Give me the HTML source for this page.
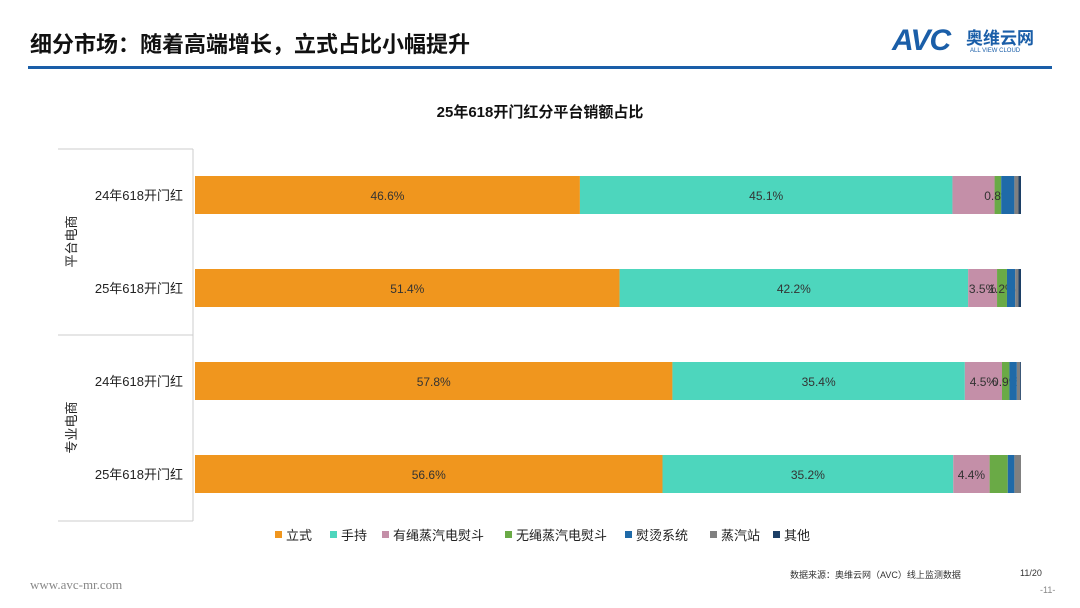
<!DOCTYPE html>
<html><head><meta charset="utf-8"><style>
body{margin:0;width:1080px;height:608px;background:#fff;font-family:"Liberation Sans","Noto Sans CJK SC",sans-serif;overflow:hidden;position:relative}
.t{position:absolute}
</style></head><body>
<div class="t" style="left:30px;top:27px;font-size:22px;font-weight:bold;color:#111">细分市场：随着高端增长，立式占比小幅提升</div>
<div class="t" style="left:892px;top:24px;font-size:30px;font-weight:bold;font-style:italic;color:#1a5ea8;letter-spacing:-1px">AVC</div>
<div class="t" style="left:966px;top:24px;font-size:17px;font-weight:bold;color:#1a5ea8">奥维云网</div>
<div class="t" style="left:970px;top:48px;font-size:6px;color:#1a5ea8">ALL VIEW CLOUD</div>
<div class="t" style="left:28px;top:66px;width:1024px;height:3px;background:#1a5ea8"></div>
<svg class="t" style="left:0;top:0" width="1080" height="608" id="svg"></svg>
<div class="t" style="left:30px;top:577px;font-size:13px;color:#888;font-family:'Liberation Serif',serif">www.avc-mr.com</div>
<div class="t" style="left:790px;top:568px;font-size:9px;color:#333">数据来源：奥维云网（AVC）线上监测数据</div>
<div class="t" style="left:1020px;top:568px;font-size:9px;color:#333">11/20</div>
<div class="t" style="left:1040px;top:585px;font-size:9px;color:#888">-11-</div>
<script>
const categories=["24年618开门红","25年618开门红","24年618开门红","25年618开门红"];
const groups=["平台电商","专业电商"];
const seriesNames=["立式","手持","有绳蒸汽电熨斗","无绳蒸汽电熨斗","熨烫系统","蒸汽站","其他"];
const seriesColors=["#f0961e","#4dd6bd","#c48fa8","#6aaa46","#1f6aa8","#808080","#1c3f66"];
const s0=[46.6,51.4,57.8,56.6];
const s1=[45.1,42.2,35.4,35.2];
const s2=[5.1,3.5,4.5,4.4];
const s3=[0.8,1.2,0.9,2.2];
const s4=[1.6,1.0,0.9,0.8];
const s5=[0.5,0.4,0.4,0.8];
const s6=[0.3,0.3,0.1,0.0];
const showLabel=[[1,1,0,1,0,0,0],[1,1,1,1,0,0,0],[1,1,1,1,0,0,0],[1,1,1,0,0,0,0]];
const series=[s0,s1,s2,s3,s4,s5,s6];
const NS="http://www.w3.org/2000/svg",svg=document.getElementById('svg');
function mk(t,a,txt){const e=document.createElementNS(NS,t);for(const k in a)e.setAttribute(k,a[k]);if(txt!=null)e.textContent=txt;svg.appendChild(e);return e;}
const x0=195,x1=1021,xs=v=>v/100*(x1-x0);
const yc=i=>195+i*93,bh=38;
let e=mk('text',{x:540,y:117,'text-anchor':'middle','font-size':15,'font-weight':'bold',fill:'#111'},"25年618开门红分平台销额占比");

[149,335,521].forEach(y=>{const l=mk('line',{x1:58,x2:193,y1:y,y2:y,stroke:'#ccc'});});
e=mk('line',{x1:193,x2:193,y1:149,y2:521,stroke:'#ccc'});
groups.forEach((g,i)=>{const cy=(yc(i*2)+yc(i*2+1))/2;const t=mk('text',{x:0,y:0,transform:`translate(76,${cy}) rotate(-90)`,'text-anchor':'middle','font-size':13,fill:'#222'},g);});
categories.forEach((c,i)=>{
 const t=mk('text',{x:183,y:yc(i)+5,'text-anchor':'end','font-size':13,fill:'#222'},c);
 
 let acc=0;
 series.forEach((s,j)=>{const v=s[i];const r=mk('rect',{x:x0+xs(acc),y:yc(i)-bh/2,width:xs(v),height:bh,fill:seriesColors[j]});
  
  if(showLabel[i][j]){const l=mk('text',{x:x0+xs(acc+v/2),y:yc(i)+5,'text-anchor':'middle','font-size':12,fill:'#333'},v.toFixed(1)+'%');
   }
  acc+=v;});
});
const lx=[275,330,382,505,625,710,773];
seriesNames.forEach((n,j)=>{const r=mk('rect',{x:lx[j],y:531,width:7,height:7,fill:seriesColors[j]});
 const t=mk('text',{x:lx[j]+11,y:540,'font-size':13,fill:'#222'},n);});
</script>
</body></html>
